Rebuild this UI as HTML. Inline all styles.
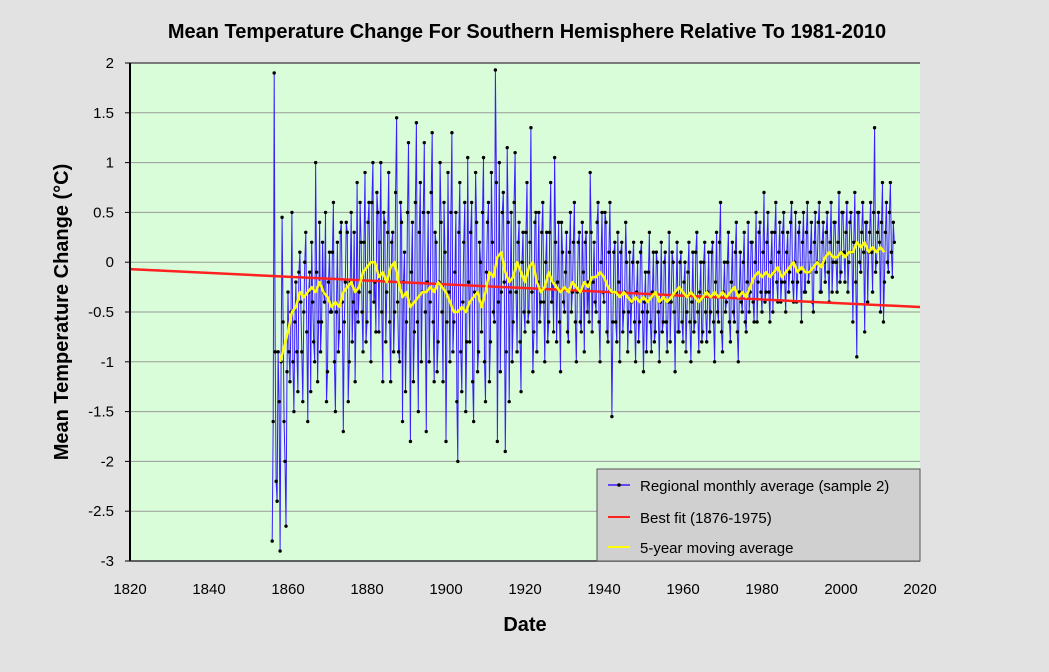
<!DOCTYPE html>
<html><head><meta charset="utf-8">
<style>
html,body{margin:0;padding:0;background:#e2e2e2;}
svg{display:block;font-family:"Liberation Sans",Arial,sans-serif;}
</style></head>
<body>
<svg id="chart" width="1049" height="672" viewBox="0 0 1049 672" xmlns="http://www.w3.org/2000/svg">
<rect x="0" y="0" width="1049" height="672" fill="#e2e2e2"/>
<text x="527" y="38" text-anchor="middle" font-size="20" font-weight="bold" fill="#000">Mean Temperature Change For Southern Hemisphere Relative To 1981-2010</text>
<rect x="130" y="63" width="790" height="498" fill="#d9fcd9"/>
<g id="grid"></g>
<g id="series"></g>
<line x1="130" y1="63" x2="130" y2="561" stroke="#000" stroke-width="2"/>
<line x1="130" y1="561" x2="920" y2="561" stroke="#333" stroke-width="1.5"/>
<g id="yticks"></g>
<g id="xticks"></g>
<text x="525" y="631" text-anchor="middle" font-size="20" font-weight="bold">Date</text>
<text transform="translate(68,312) rotate(-90)" text-anchor="middle" font-size="20" font-weight="bold">Mean  Temperature  Change  (°C)</text>
<g>
<rect x="597" y="469" width="323" height="92" fill="#d0d0d0" stroke="#555" stroke-width="1"/>
<g>
<line x1="608" y1="485" x2="630" y2="485" stroke="#3a1cff" stroke-width="1.5"/>
<circle cx="619" cy="485" r="1.8" fill="#000"/>
<text x="640" y="491" font-size="15">Regional monthly average (sample 2)</text></g>
<g>
<line x1="608" y1="517" x2="630" y2="517" stroke="#ff2020" stroke-width="2"/>
<text x="640" y="523" font-size="15">Best fit (1876-1975)</text></g>
<g>
<line x1="608" y1="547" x2="630" y2="547" stroke="#ffff00" stroke-width="2"/>
<text x="640" y="553" font-size="15">5-year moving average</text></g>
</g>
</svg>
<script>
const monthlyStart = 1856, monthlyStep = 0.5;
const monthlyValues = [
-2.8,1.9,-2.2,-0.9,-2.9,0.45,-1.6,-2.65,-0.3,-1.2,
0.5,-1.5,-0.2,-1.3,0.1,-0.9,-0.5,0.3,-1.6,-0.1,
0.2,-0.8,1.0,-1.2,0.4,-0.6,-0.3,0.5,-1.1,0.1,
-0.5,0.6,-1.5,0.2,-0.7,0.4,-1.7,-0.2,0.3,-1.0,
0.5,-0.4,-1.2,0.8,-0.3,0.2,-0.9,0.9,-0.6,0.6,
-1.0,1.0,-0.2,0.7,-0.7,1.0,-1.2,0.4,-0.3,0.9,
-1.2,0.3,-0.5,1.45,-0.9,0.6,-1.6,0.1,-0.6,1.2,
-1.8,0.4,-0.7,1.4,-1.5,0.8,-0.3,1.2,-1.7,0.5,
-0.4,1.3,-1.2,0.2,-0.8,1.0,-0.5,0.6,-1.8,0.9,
-1.0,1.3,-0.6,0.5,-2.0,0.8,-1.3,0.2,-1.5,1.05,
-0.8,0.6,-1.6,0.9,-1.1,0.2,-0.7,1.05,-1.4,0.4,
-1.2,0.9,-0.5,1.93,-1.8,1.0,-0.3,0.7,-1.9,1.15,
-1.4,0.5,-0.6,1.1,-0.9,0.4,-1.3,0.3,-0.7,0.8,
-0.5,1.35,-1.1,0.4,-0.9,0.5,-0.4,0.6,-1.0,0.3,
-0.6,0.8,-0.2,1.05,-0.8,0.4,-1.1,0.1,-0.5,0.3,
-0.8,0.5,-0.3,0.6,-1.0,0.2,-0.6,0.4,-0.9,0.3,
-0.2,0.9,-0.7,0.2,-0.5,0.6,-1.0,0.5,-0.4,0.4,
-0.8,0.6,-1.55,0.1,-0.6,0.3,-1.0,0.2,-0.5,0.4,
-0.9,0.1,-0.4,0.2,-1.0,0.0,-0.6,0.2,-1.1,-0.1,
-0.5,0.3,-0.9,0.1,-0.7,0.0,-1.0,0.2,-0.6,0.1,
-0.9,0.3,-0.4,0.0,-1.1,0.2,-0.7,0.1,-0.8,0.0,
-0.5,0.2,-1.0,0.1,-0.6,0.3,-0.9,0.0,-0.7,0.2,
-0.8,0.1,-0.5,0.2,-1.0,0.3,-0.6,0.6,-0.9,0.0,
-0.4,0.3,-0.8,0.2,-0.6,0.4,-1.0,0.1,-0.5,0.3,
-0.7,0.4,-0.3,0.2,-0.6,0.5,-0.2,0.4,-0.5,0.7,
-0.3,0.5,-0.6,0.3,-0.1,0.6,-0.4,0.4,-0.2,0.5,
-0.5,0.3,-0.1,0.6,-0.4,0.5,-0.2,0.4,-0.6,0.5,
-0.3,0.6,-0.1,0.4,-0.5,0.5,0.0,0.6,-0.3,0.4,
-0.2,0.5,-0.4,0.6,0.0,0.4,-0.3,0.7,-0.1,0.5,
-0.2,0.6,0.0,0.5,-0.6,0.7,-0.95,0.5,-0.1,0.6,
-0.7,0.4,0.1,0.6,-0.3,1.35,0.0,0.5,-0.5,0.8,
-0.2,0.6,-0.1,0.8,-0.15,0.2
];
const monthlyStartB = 1856.25;
const monthlyValuesB = [
-1.6,-0.9,-2.4,-1.4,-1.0,-0.6,-2.0,-1.1,-0.9,-0.5,
-1.0,-0.6,-0.9,-0.1,-0.4,-1.4,0.0,-0.7,-0.3,-1.3,
-0.4,-1.0,-0.1,-0.6,-0.9,0.2,-0.4,-1.4,-0.2,-0.5,
0.1,-1.0,-0.5,-0.9,0.3,-0.4,-0.6,0.4,-1.4,-0.2,
-0.8,0.3,-0.5,-0.6,0.6,-0.5,0.2,-0.8,0.4,-0.3,
0.6,-0.4,-0.7,0.5,0.2,-0.5,0.5,-0.8,0.3,-0.6,
0.2,-0.9,0.7,-0.4,-1.0,0.4,-0.2,-1.3,0.5,-0.4,
-0.1,-1.2,0.6,-0.6,0.3,-1.0,0.5,-0.5,-0.2,-1.0,
0.7,-0.6,0.3,-1.1,-0.2,0.4,-1.2,0.1,-0.6,-0.3,
0.5,-0.9,-0.1,-1.4,0.3,-0.9,-0.4,0.6,-0.8,-0.2,
0.3,-1.2,-0.3,0.4,-0.9,0.0,0.5,-1.0,-0.1,0.6,
-0.8,0.2,-0.6,0.8,-0.4,-1.1,0.5,-0.2,-0.9,0.4,
-0.3,-1.0,0.6,-0.3,0.2,-0.8,0.0,-0.5,0.3,-0.6,
0.2,-0.3,-0.7,0.5,-0.2,-0.6,0.3,-0.4,0.0,-0.8,
0.3,-0.4,-0.7,0.2,-0.2,-0.6,0.4,-0.4,-0.1,-0.7,
0.1,-0.5,0.2,-0.6,-0.3,0.3,-0.7,-0.1,0.2,-0.5,
-0.6,0.3,-0.2,-0.4,0.4,-0.6,0.0,-0.3,0.5,-0.7,
0.1,-0.3,-0.6,0.2,-0.8,-0.2,0.1,-0.7,-0.3,0.0,
-0.5,-0.7,0.0,-0.6,-0.3,-0.8,0.1,-0.5,-0.4,-0.9,
-0.1,-0.6,-0.3,-0.8,0.1,-0.5,-0.4,-0.7,0.0,-0.6,
-0.4,-0.8,0.1,-0.5,-0.3,-0.7,0.0,-0.6,-0.2,-0.9,
-0.1,-0.6,-0.4,-0.7,0.1,-0.5,-0.3,-0.8,0.0,-0.5,
-0.3,-0.7,0.1,-0.6,-0.2,-0.5,0.2,-0.7,-0.3,-0.5,
0.0,-0.6,-0.2,-0.5,0.1,-0.7,-0.3,-0.4,0.0,-0.6,
-0.2,-0.5,0.2,-0.4,0.0,-0.6,0.3,-0.3,0.1,-0.4,
0.2,-0.3,0.0,-0.5,0.3,-0.2,0.1,-0.4,0.3,-0.2,
0.1,-0.3,0.4,-0.2,0.0,-0.4,0.3,-0.1,0.2,-0.3,
0.3,-0.2,0.1,-0.4,0.2,-0.1,0.4,-0.3,0.2,0.0,
0.3,-0.1,0.2,-0.3,0.4,0.0,0.2,-0.2,0.5,0.1,
0.3,-0.3,0.4,0.1,0.2,-0.2,0.5,0.0,0.3,0.1,
0.4,-0.4,0.3,0.1,0.5,-0.1,0.3,0.2,0.4,-0.6,
0.3,0.0,0.5,0.1,0.4
];
const movingAvgStart = 1858;
const movingAvgValues = [
-1.0,-0.85,-0.7,-0.5,-0.45,-0.3,-0.35,-0.3,-0.25,-0.3,
-0.2,-0.3,-0.35,-0.45,-0.4,-0.45,-0.3,-0.25,-0.2,-0.3,
-0.25,-0.1,-0.05,0.0,0.0,-0.15,-0.1,-0.2,-0.05,0.0,
-0.2,-0.35,-0.3,-0.45,-0.4,-0.35,-0.3,-0.3,-0.25,-0.3,
-0.2,-0.25,-0.3,-0.4,-0.5,-0.5,-0.45,-0.5,-0.4,-0.35,
-0.3,-0.45,-0.3,-0.1,-0.15,0.05,0.1,-0.1,-0.2,-0.15,
0.0,-0.1,-0.2,-0.05,0.0,-0.2,-0.3,-0.25,-0.1,-0.2,
-0.25,-0.3,-0.25,-0.3,-0.2,-0.25,-0.3,-0.2,-0.25,-0.15,
-0.15,-0.1,-0.15,-0.25,-0.3,-0.3,-0.35,-0.3,-0.35,-0.4,
-0.35,-0.4,-0.35,-0.4,-0.35,-0.3,-0.4,-0.35,-0.4,-0.35,
-0.3,-0.25,-0.3,-0.35,-0.3,-0.35,-0.4,-0.35,-0.3,-0.35,
-0.3,-0.35,-0.3,-0.35,-0.3,-0.25,-0.35,-0.3,-0.35,-0.25,
-0.15,-0.1,-0.15,-0.1,-0.15,-0.1,-0.05,-0.15,-0.1,-0.05,
0.0,-0.1,-0.05,-0.1,-0.1,-0.05,0.0,-0.05,0.05,0.1,
0.05,0.05,0.1,0.05,0.1,0.1,0.2,0.15,0.2,0.1,
0.15,0.1,0.15,0.1
];
const fitYears = [1820, 2020];
const fitValues = [-0.07, -0.45];
const xTicks = [1820,1840,1860,1880,1900,1920,1940,1960,1980,2000,2020];
const yTicks = [2,1.5,1,0.5,0,-0.5,-1,-1.5,-2,-2.5,-3];
const yTickLabels = ["2","1.5","1","0.5","0","-0.5","-1","-1.5","-2","-2.5","-3"];

const NS = "http://www.w3.org/2000/svg";
const L=130,R=920,T=63,B=561;
const xs = yr => L + (yr-1820)/200*(R-L);
const ys = v => T + (2-v)/5*(B-T);
function mk(tag, attrs, parent){const e=document.createElementNS(NS,tag);for(const k in attrs)e.setAttribute(k,attrs[k]);parent.appendChild(e);return e;}

const grid=document.getElementById('grid');
yTicks.forEach((v,i)=>{
  if(v===2||v===-3) return;
  const g=mk('line',{x1:L,x2:R,y1:ys(v),y2:ys(v),stroke:'#9a9a9a','stroke-width':1},grid);
  
  
});
mk('line',{x1:L,x2:R,y1:T,y2:T,stroke:'#555','stroke-width':1.5},grid);
const yt=document.getElementById('yticks');
yTicks.forEach((v,i)=>{
  const t=mk('text',{x:L-16,y:ys(v)+5,'text-anchor':'end','font-size':15},yt);
  t.textContent=yTickLabels[i];
  
  
  mk('line',{x1:L-5,x2:L,y1:ys(v),y2:ys(v),stroke:'#000','stroke-width':1},yt);
});
const xt=document.getElementById('xticks');
xTicks.forEach(v=>{
  const t=mk('text',{x:xs(v),y:594,'text-anchor':'middle','font-size':15},xt);
  t.textContent=String(v);
  
  
});

const s=document.getElementById('series');
let all=[];
monthlyValues.forEach((v,i)=>all.push([monthlyStart+i*monthlyStep,v]));
monthlyValuesB.forEach((v,i)=>all.push([monthlyStartB+i*monthlyStep,v]));
all.sort((a,b)=>a[0]-b[0]);
const mpts=all.map(d=>[xs(d[0]),ys(d[1])]);
const mline=mk('polyline',{points:mpts.map(p=>p[0].toFixed(1)+','+p[1].toFixed(1)).join(' '),fill:'none',stroke:'#3a1cff','stroke-width':1},s);


mpts.forEach(p=>{
  const c=mk('circle',{cx:p[0],cy:p[1],r:1.7,fill:'#000'},s);
  
  
});
const fit=mk('line',{x1:xs(fitYears[0]),y1:ys(fitValues[0]),x2:xs(fitYears[1]),y2:ys(fitValues[1]),stroke:'#ff2020','stroke-width':2.5},s);


const mav=mk('polyline',{points:movingAvgValues.map((v,i)=>xs(movingAvgStart+i).toFixed(1)+','+ys(v).toFixed(1)).join(' '),fill:'none',stroke:'#ffff00','stroke-width':2.5,'stroke-linejoin':'round'},s);


</script>
</body></html>
